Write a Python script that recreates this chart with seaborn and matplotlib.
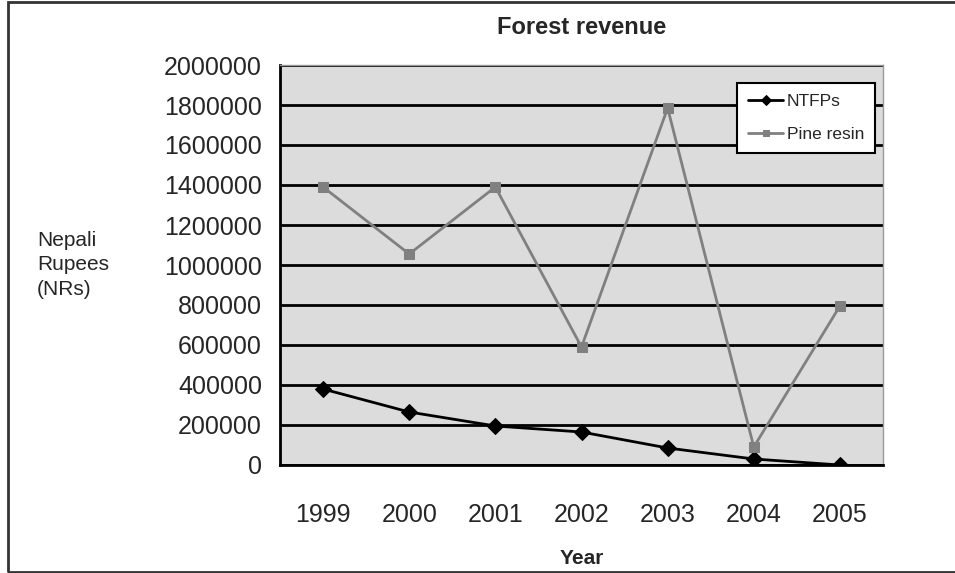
import numpy as np
import pandas as pd
import matplotlib
matplotlib.use('Agg')
import matplotlib.pyplot as plt
from matplotlib.patches import Rectangle
from matplotlib.ticker import FuncFormatter
import seaborn as sns

# data
years = [1999, 2000, 2001, 2002, 2003, 2004, 2005]
ntfps = [380000, 265000, 195000, 165000, 85000, 30000, 0]
pine_resin = [1390000, 1055000, 1390000, 590000, 1785000, 90000, 795000]

df = pd.DataFrame({'Year': years * 2,
                   'Value': ntfps + pine_resin,
                   'Series': ['NTFPs'] * 7 + ['Pine resin'] * 7})

sns.set_style('white')
plt.rcParams['font.family'] = ['Liberation Sans', 'DejaVu Sans']

fig = plt.figure(figsize=(9.55, 5.73), dpi=100)
ax = fig.add_axes([280 / 955, 1 - 465 / 573, 603 / 955, 400 / 573])
ax.set_facecolor('#dcdcdc')

sns.lineplot(data=df, x='Year', y='Value', hue='Series', style='Series',
             palette={'NTFPs': 'black', 'Pine resin': '#808080'},
             markers={'NTFPs': 'D', 'Pine resin': 's'},
             dashes=False, linewidth=2, ax=ax, zorder=3)
for line in ax.lines:
    line.set_markeredgecolor(line.get_color())
    line.set_markersize(8 if line.get_marker() == 'D' else 7)

ax.set_xlim(1998.5, 2005.5)
ax.set_ylim(0, 2000000)
ax.set_yticks(np.arange(0, 2000001, 200000))
ax.yaxis.set_major_formatter(FuncFormatter(lambda v, p: f'{int(v)}'))
ax.set_xticks(years)
ax.set_xticks(np.arange(1998.5, 2005.6, 1), minor=True)
ax.tick_params(axis='x', which='major', length=0, labelsize=18, pad=27)
ax.tick_params(axis='x', which='minor', length=10, width=1.5, direction='out', color='black')
ax.tick_params(axis='y', length=9, width=1.5, direction='out', labelsize=18, color='black', pad=4)
ax.yaxis.grid(True, color='black', linewidth=2)
ax.set_axisbelow(True)

for side in ['top', 'right']:
    ax.spines[side].set_color('#999999')
    ax.spines[side].set_linewidth(1)
for side in ['left', 'bottom']:
    ax.spines[side].set_color('black')
    ax.spines[side].set_linewidth(2)

ax.set_title('Forest revenue', fontsize=17, fontweight='bold', pad=22)
ax.set_xlabel('Year', fontsize=15, fontweight='bold', labelpad=16)
ax.set_ylabel('')
fig.text(37 / 955, 1 - 265 / 573, 'Nepali\nRupees\n(NRs)', fontsize=15,
         ha='left', va='center', linespacing=1.35)

leg = ax.legend(loc='upper right', bbox_to_anchor=(0.987, 0.955), borderaxespad=0,
                fontsize=12.5, frameon=True, fancybox=False, edgecolor='black',
                framealpha=1, handlelength=2.0, borderpad=0.65, labelspacing=1.0,
                handletextpad=0.2, markerscale=0.7)
leg.get_frame().set_linewidth(1.5)

fig.patches.append(Rectangle((8 / 955, 1 - 572 / 573), 2, 570 / 573,
                             transform=fig.transFigure, fill=False,
                             edgecolor='#333333', linewidth=2))

fig.savefig('out.png', dpi=100)
